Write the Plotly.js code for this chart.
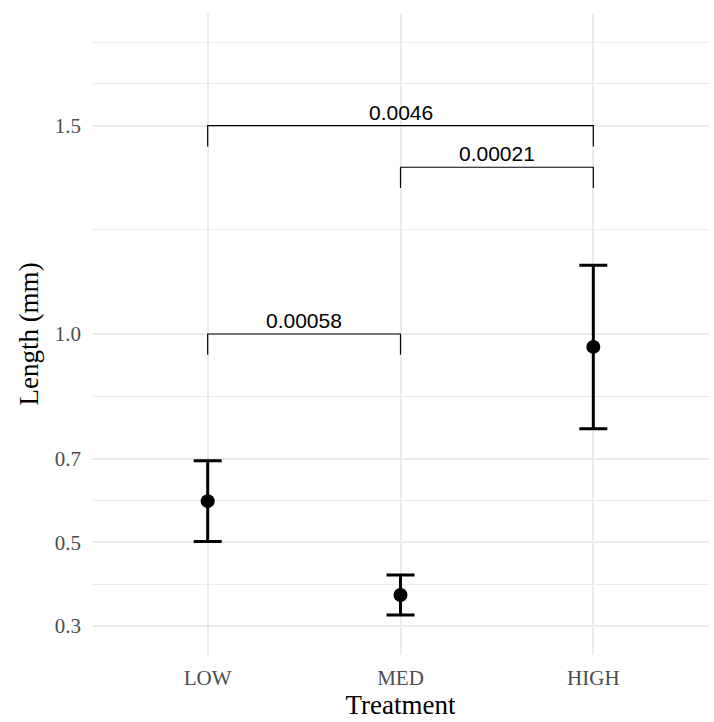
<!DOCTYPE html>
<html>
<head>
<meta charset="utf-8">
<script src="https://cdn.plot.ly/plotly-3.0.1.min.js"></script>
<style>html,body{margin:0;padding:0;background:#fff;}</style>
</head>
<body>
<div id="chart" style="width:714px;height:722px;"></div>
<script>
// ---- data ----
const categories = ['LOW', 'MED', 'HIGH'];
const meanLength = [0.599, 0.374, 0.969];
const errLength = [0.097, 0.048, 0.196];

// significance brackets (ggsignif style)
const bracketStart = ['LOW', 'MED', 'LOW'];
const bracketEnd = ['MED', 'HIGH', 'HIGH'];
const bracketY = [1.0, 1.40, 1.5];
const bracketLabels = ['0.00058', '0.00021', '0.0046'];

const yTickVals = [0.3, 0.5, 0.7, 1.0, 1.5];
const yTickText = ['0.3', '0.5', '0.7', '1.0', '1.5'];
const yMinorVals = [0.4, 0.6, 0.85, 1.25, 1.6, 1.7];

// ---- style ----
const tipLength = 0.05;
const serif = 'Liberation Serif, Times New Roman, serif';
const sans = 'Liberation Sans, Arial, sans-serif';

const traces = [];
// brackets
for (let i = 0; i < bracketY.length; i++) {
  traces.push({
    type: 'scatter', mode: 'lines',
    x: [bracketStart[i], bracketStart[i], bracketEnd[i], bracketEnd[i]],
    y: [bracketY[i] - tipLength, bracketY[i], bracketY[i], bracketY[i] - tipLength],
    line: {color: '#000', width: 1.2},
    hoverinfo: 'skip', showlegend: false
  });
}
// points with error bars
traces.push({
  type: 'scatter', mode: 'markers',
  x: categories, y: meanLength,
  marker: {color: '#000', size: 14},
  error_y: {type: 'data', array: errLength, symmetric: true, color: '#000', thickness: 3, width: 14},
  showlegend: false
});

const annotations = bracketLabels.map((t, i) => ({
  x: (categories.indexOf(bracketStart[i]) + categories.indexOf(bracketEnd[i])) / 2,
  y: bracketY[i], xref: 'x', yref: 'y',
  text: t, showarrow: false, yanchor: 'bottom', yshift: 0,
  font: {family: sans, size: 21, color: '#000'}
}));

const layout = {
  width: 714, height: 722,
  margin: {l: 92, r: 5, t: 13, b: 67},
  paper_bgcolor: '#fff', plot_bgcolor: '#fff',
  showlegend: false,
  xaxis: {
    type: 'category', categoryorder: 'array', categoryarray: categories,
    range: [-0.6, 2.6],
    showgrid: true, gridcolor: '#EBEBEB', gridwidth: 2,
    zeroline: false, showline: false, ticks: '',
    tickfont: {family: serif, size: 21, color: '#4D4D4D'},
    ticklabelstandoff: 8,
    title: {text: 'Treatment', font: {family: serif, size: 27, color: '#000'}, standoff: 6}
  },
  yaxis: {
    range: [0.23, 1.77],
    tickmode: 'array', tickvals: yTickVals, ticktext: yTickText,
    showgrid: true, gridcolor: '#EBEBEB', gridwidth: 2,
    minor: {tickmode: 'array', tickvals: yMinorVals, showgrid: true, gridcolor: '#EBEBEB', gridwidth: 1, ticks: ''},
    zeroline: false, showline: false, ticks: '',
    tickfont: {family: serif, size: 21, color: '#4D4D4D'},
    ticklabelstandoff: 10,
    title: {text: 'Length (mm)', font: {family: serif, size: 27, color: '#000'}, standoff: 8}
  },
  annotations: annotations
};

Plotly.newPlot('chart', traces, layout, {displayModeBar: false, staticPlot: true});
</script>
</body>
</html>
